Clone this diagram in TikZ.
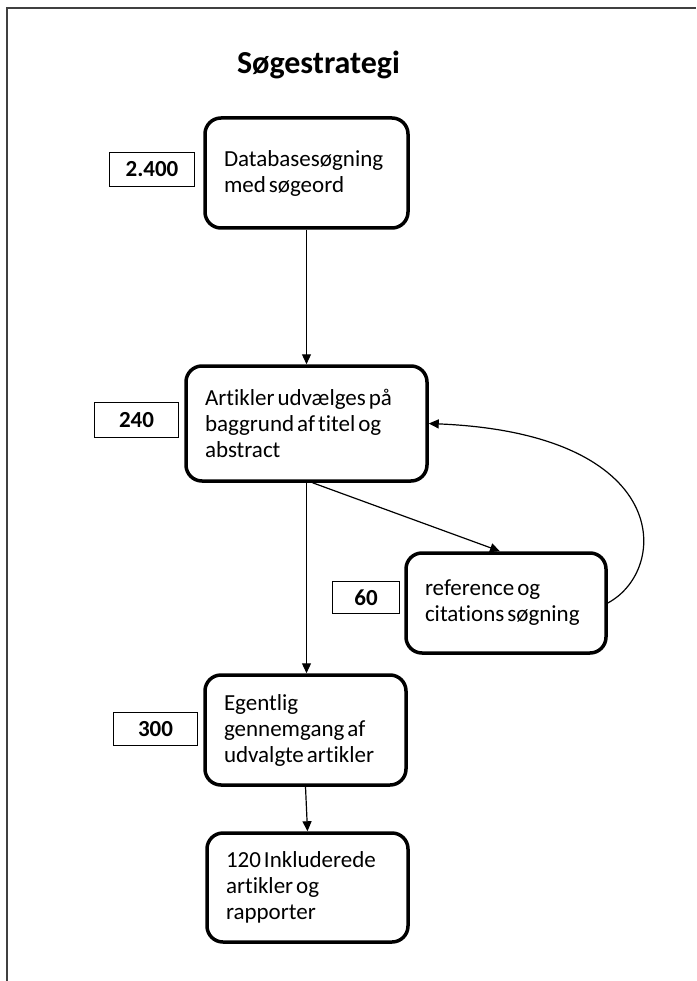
\documentclass[tikz,border=0pt]{standalone}
\usepackage{fontspec}
\setmainfont{Carlito}[RawFeature={-liga;-clig;-dlig}]
\usetikzlibrary{arrows.meta,positioning}
\newcommand\boxfont{\fontsize{23}{26}\selectfont\fontdimen2\font=3pt\relax}

\begin{document}
\begin{tikzpicture}[x=1pt,y=-1pt,
    stepbox/.style={draw, line width=3.5pt, rounded corners=16pt, align=flush left,
        inner xsep=19pt, font=\boxfont},
    countbox/.style={draw, line width=1.3pt, font=\fontsize{23}{26}\selectfont\bfseries},
    flow/.style={line width=1.2pt, -{Triangle[length=10pt,width=9pt]}}]
    \useasboundingbox (0,0) rectangle (696,981);
    \draw[line width=2pt, black!75] (7,981) -- (7,8) -- (696,8);

    \node[font=\fontsize{32}{38}\selectfont\bfseries, anchor=base] (title) at (318.5,74) {Søgestrategi};

    % steps
    \node[stepbox, text width=165pt, minimum height=110pt] (db) at (306.5,173) {Databasesøgning\\med søgeord};
    \node[stepbox, text width=203pt, minimum height=115pt] (sel) at (306.5,423.5) {Artikler udvælges på\\baggrund af titel og\\abstract};
    \node[stepbox, text width=162pt, minimum height=100pt] (ref) at (506,603) {reference og\\citations søgning};
    \node[stepbox, text width=163pt, minimum height=110pt] (read) at (305.5,730) {Egentlig\\gennemgang af\\udvalgte artikler};
    \node[stepbox, text width=163pt, minimum height=109pt] (incl) at (307.5,887.5) {120 Inkluderede\\artikler og\\rapporter};

    % counts
    \node[countbox, minimum width=85pt, minimum height=34pt] (n1) at (152,169.5) {2.400};
    \node[countbox, minimum width=84pt, minimum height=35pt] (n2) at (136.5,420) {240};
    \node[countbox, minimum width=67pt, minimum height=32pt] (n3) at (366,597.5) {60};
    \node[countbox, minimum width=84pt, minimum height=33pt] (n4) at (155.5,729) {300};

    \draw[flow] (db.south) -- (sel.north);
    \draw[flow] (sel.south) -- (sel.south |- read.north);
    \draw[flow] ([xshift=6pt]sel.south) -- ([xshift=-6pt]ref.north);
    \draw[flow] (read.south) -- (incl.north);
    \draw[flow] (ref.east) .. controls +(62,-33) and +(245,10) .. (sel.east);
\end{tikzpicture}
\end{document}
